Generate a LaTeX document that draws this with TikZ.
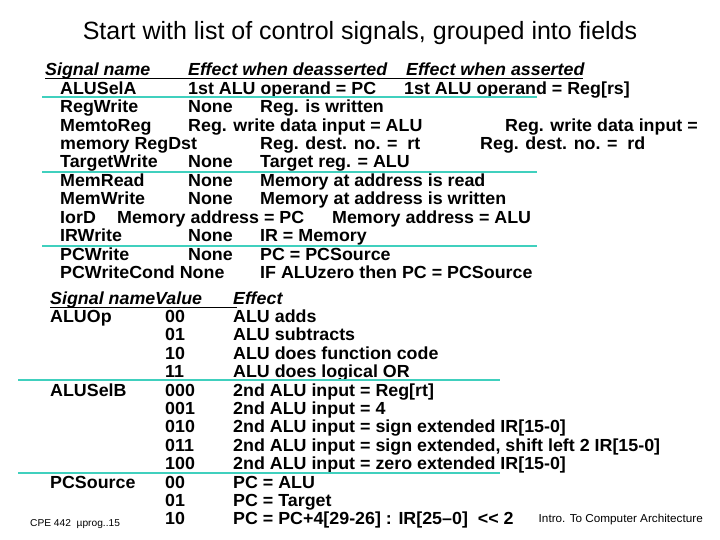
\documentclass[tikz,border=0pt]{standalone}
\usepackage{fontspec}
\setmainfont{Liberation Sans}
\newfontfamily\cond{Liberation Sans}[FakeStretch=1.02]
\definecolor{turq}{RGB}{64,208,190}
\begin{document}
\begin{tikzpicture}[x=1pt,y=-1pt,
  t/.style={anchor=base west,inner sep=0pt,font=\cond\bfseries\fontsize{17.5}{18}\selectfont},
  h/.style={t,font=\cond\bfseries\itshape\fontsize{17.5}{18}\selectfont},
  sep/.style={draw=turq,line width=2.5pt},
  ul/.style={draw=black,line width=1pt}]
\useasboundingbox (0,0) rectangle (720,540);
\node[anchor=base,font=\fontsize{25}{28}\selectfont] (title) at (360,40) {Start with list of control signals, grouped into fields};
% top table
\node[h] (h1) at (45,76) {Signal name};
\node[h] (h2) at (188,76) {Effect when deasserted};
\node[h] (h3) at (406,76) {Effect when asserted};
\coordinate (u1) at (45,79); \coordinate (u2) at (583,79);
\draw[ul] (u1) -- (u2);
\node[t] (a1) at (60,94.4) {ALUSelA};
\node[t] (a2) at (188,94.4) {1st ALU operand = PC};
\node[t] (a3) at (404,94.4) {1st ALU operand = Reg[rs]};
\node[t] (b1) at (60,112.8) {RegWrite};
\node[t] (b2) at (188,112.8) {None};
\node[t] (b3) at (260,112.8) {Reg. is written};
\node[t] (c1) at (60,131.2) {MemtoReg};
\node[t] (c2) at (188,131.2) {Reg. write data input = ALU};
\node[t] (c3) at (505,131.2) {Reg. write data input =};
\node[t] (d1) at (60,149.6) {memory RegDst};
\node[t] (d2) at (260,149.6) {Reg. dest. no. =\ \ rt};
\node[t] (d3) at (480,149.6) {Reg. dest. no. =\ \ rd};
\node[t] (e1) at (60,168) {TargetWrite};
\node[t] (e2) at (188,168) {None};
\node[t] (e3) at (260,168) {Target reg. = ALU};
\node[t] (f1) at (60,186.4) {MemRead};
\node[t] (f2) at (188,186.4) {None};
\node[t] (f3) at (260,186.4) {Memory at address is read};
\node[t] (g1) at (60,204.8) {MemWrite};
\node[t] (g2) at (188,204.8) {None};
\node[t] (g3) at (260,204.8) {Memory at address is written};
\node[t] (i1) at (60,223.2) {IorD};
\node[t] (i2) at (117,223.2) {Memory address = PC};
\node[t] (i3) at (332,223.2) {Memory address = ALU};
\node[t] (j1) at (60,241.6) {IRWrite};
\node[t] (j2) at (188,241.6) {None};
\node[t] (j3) at (260,241.6) {IR = Memory};
\node[t] (k1) at (60,260) {PCWrite};
\node[t] (k2) at (188,260) {None};
\node[t] (k3) at (260,260) {PC = PCSource};
\node[t] (l1) at (60,278.4) {PCWriteCond None};
\node[t] (l3) at (260,278.4) {IF ALUzero then PC = PCSource};
\coordinate (s1a) at (42,97); \coordinate (s1b) at (537,97);
\coordinate (s2a) at (42,172); \coordinate (s2b) at (537,172);
\coordinate (s3a) at (42,246); \coordinate (s3b) at (537,246);
\draw[sep] (s1a) -- (s1b); \draw[sep] (s2a) -- (s2b); \draw[sep] (s3a) -- (s3b);
% bottom table
\node[h] (H1) at (50,304) {Signal name};
\node[h] (H2) at (155,304) {Value};
\node[h] (H3) at (233,304) {Effect};
\coordinate (v1) at (50,307); \coordinate (v2) at (237,307);
\draw[ul] (v1) -- (v2);
\node[t] (n1) at (50,322.4) {ALUOp};
\node[t] (v00) at (165,322.4) {00};  \node[t] (e00) at (233,322.4) {ALU adds};
\node[t] (v01) at (165,340.8) {01};  \node[t] (e01) at (233,340.8) {ALU subtracts};
\node[t] (v10) at (165,359.2) {10};  \node[t] (e10) at (233,359.2) {ALU does function code};
\node[t] (v11) at (165,377.6) {11};  \node[t] (e11) at (233,377.6) {ALU does logical OR};
\node[t] (n2) at (50,396) {ALUSelB};
\node[t] (w0) at (165,396) {000};  \node[t] (x0) at (233,396) {2nd ALU input = Reg[rt]};
\node[t] (w1) at (165,414.4) {001};  \node[t] (x1) at (233,414.4) {2nd ALU input = 4};
\node[t] (w2) at (165,432.8) {010};  \node[t] (x2) at (233,432.8) {2nd ALU input = sign extended IR[15-0]};
\node[t] (w3) at (165,451.2) {011};  \node[t] (x3) at (233,451.2) {2nd ALU input = sign extended, shift left 2 IR[15-0]};
\node[t] (w4) at (165,469.6) {100};  \node[t] (x4) at (233,469.6) {2nd ALU input = zero extended IR[15-0]};
\node[t] (n3) at (50,488) {PCSource};
\node[t] (y0) at (165,488) {00};  \node[t] (z0) at (233,488) {PC = ALU};
\node[t] (y1) at (165,506.4) {01};  \node[t] (z1) at (233,506.4) {PC = Target};
\node[t] (y2) at (165,524.8) {10};  \node[t] (z2) at (233,524.8) {PC = PC+4[29-26] : IR[25–0]\ \ <{}< 2};
\coordinate (q1a) at (18,380); \coordinate (q1b) at (500,380);
\coordinate (q2a) at (18,473); \coordinate (q2b) at (500,473);
\draw[sep] (q1a) -- (q1b); \draw[sep] (q2a) -- (q2b);
\node[anchor=base west,inner sep=0pt,font=\cond\fontsize{10}{11}\selectfont] (f1n) at (30,526) {CPE 442\ \ µprog..15};
\node[anchor=base east,inner sep=0pt,font=\cond\fontsize{11.5}{13}\selectfont] (f2n) at (703,522) {Intro. To Computer Architecture};
\end{tikzpicture}
\end{document}
